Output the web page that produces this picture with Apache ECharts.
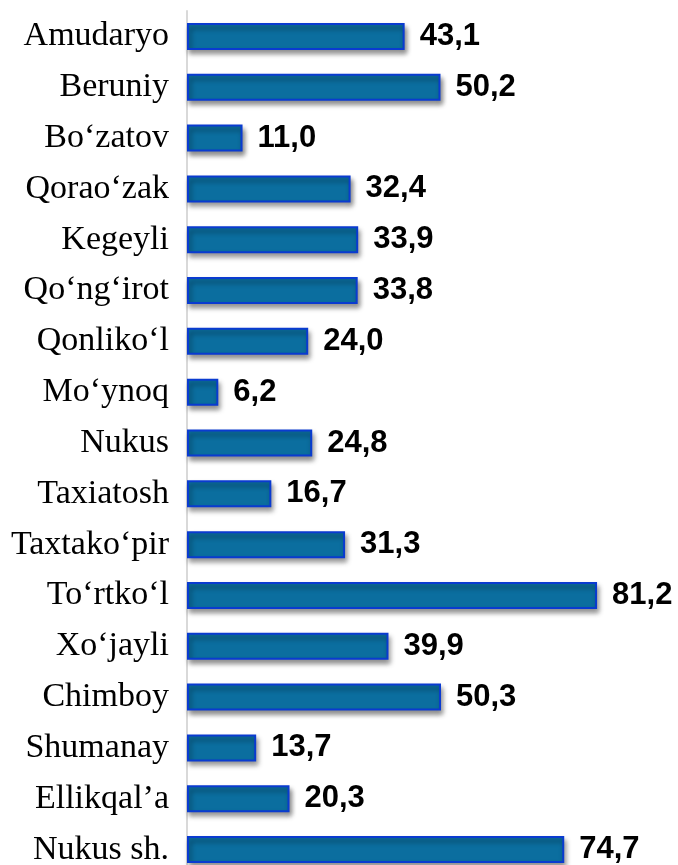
<!DOCTYPE html>
<html>
<head>
<meta charset="utf-8">
<script src="https://cdn.jsdelivr.net/npm/echarts@6/dist/echarts.min.js"></script>
<style>
  html, body { margin: 0; padding: 0; background: #fff; }
  #chart { width: 678px; height: 865px; }
</style>
</head>
<body>
<div id="chart"></div>
<script>
// districts, top to bottom
const districts = ['Amudaryo', 'Beruniy', 'Bo‘zatov', 'Qorao‘zak', 'Kegeyli', 'Qo‘ng‘irot',
  'Qonliko‘l', 'Mo‘ynoq', 'Nukus', 'Taxiatosh', 'Taxtako‘pir', 'To‘rtko‘l', 'Xo‘jayli',
  'Chimboy', 'Shumanay', 'Ellikqal’a', 'Nukus sh.'];
const values = [43.1, 50.2, 11.0, 32.4, 33.9, 33.8, 24.0, 6.2, 24.8, 16.7, 31.3, 81.2, 39.9,
  50.3, 13.7, 20.3, 74.7];

let myChart = echarts.init(document.getElementById('chart'));

option = {
    animation: false,
    grid: {
        left: 187,
        top: 11,
        width: 505,
        height: 864,
        outerBoundsMode: 'none'
    },
    xAxis: {
        type: 'value',
        min: 0,
        max: 100,
        show: false
    },
    yAxis: {
        type: 'category',
        inverse: true,
        data: districts,
        axisLine: { show: true, lineStyle: { color: '#d9d9d9', width: 2 } },
        axisTick: { show: false },
        axisLabel: {
            margin: 18,
            fontFamily: 'Liberation Serif',
            fontSize: 34,
            color: '#000'
        }
    },
    series: [
        {
            type: 'bar',
            data: values,
            barWidth: 27,
            itemStyle: {
                color: '#0b6e9f',
                borderColor: '#0a3bd0',
                borderWidth: 2,
                shadowColor: 'rgba(0,0,0,0.45)',
                shadowBlur: 5,
                shadowOffsetX: 2,
                shadowOffsetY: 4
            },
            label: {
                show: true,
                position: 'right',
                distance: 15,
                fontFamily: 'Liberation Sans',
                fontWeight: 'bold',
                fontSize: 31,
                color: '#000',
                formatter: p => p.value.toFixed(1).replace('.', ',')
            }
        }
    ]
};
myChart.setOption(option);
</script>
</body>
</html>
